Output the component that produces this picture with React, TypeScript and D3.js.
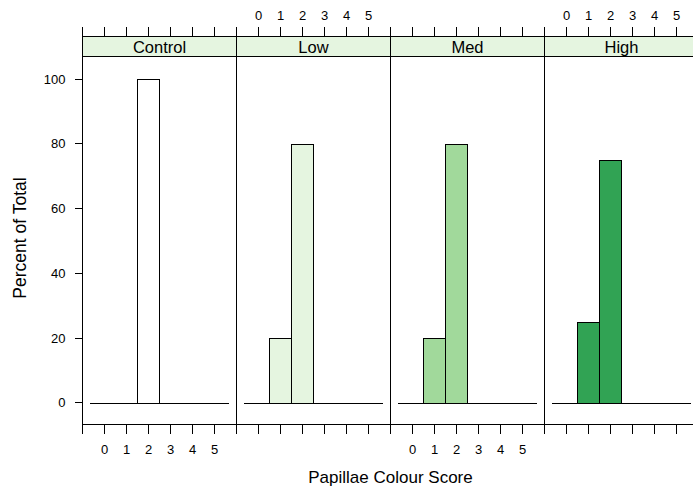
import React from "react";
import * as d3 from "d3";

// panels and histogram data (percent of total per colour score bin)
const groups = ["Control", "Low", "Med", "High"];
const fills = ["#FFFFFF", "#E5F5E0", "#A1D99B", "#31A354"];
const binEdges = [-0.65, 0.5, 1.5, 2.5, 3.5, 4.5, 5.65];
const controlPct = [0, 0, 100, 0, 0, 0];
const lowPct = [0, 20, 80, 0, 0, 0];
const medPct = [0, 20, 80, 0, 0, 0];
const highPct = [0, 25, 75, 0, 0, 0];
const xTicks = [-1, 0, 1, 2, 3, 4, 5, 6];
const xLabels = [0, 1, 2, 3, 4, 5];
const yTicks = [0, 20, 40, 60, 80, 100];

const percents = [controlPct, lowPct, medPct, highPct];

export default function App() {
    const width = 693;
    const height = 492;
    const left = 82.5;
    const panelW = 154;
    const top = 56.5;
    const bottom = 424.5;
    const stripTop = 36;
    const font = "Liberation Sans, Arial, sans-serif";

    const y = d3.scaleLinear().domain([-6.7, 107]).range([bottom, top]);

    return (
        <svg
            width={width}
            height={height}
            style={{ position: "absolute", left: 0, top: 0, background: "white" }}
            fontFamily={font}
        >
            {groups.map((g, i) => {
                const x0 = left + i * panelW;
                const x = d3.scaleLinear().domain([-1, 6]).range([x0, x0 + panelW]);
                const pct = percents[i];
                const labelTop = i % 2 === 1;
                const y0 = Math.round(y(0)) + 0.5;
                return (
                    <g key={g}>
                        {/* strip */}
                        <rect x={x0} y={stripTop} width={panelW} height={top - stripTop}
                            fill="#E5F5E0" stroke="#000" shapeRendering="crispEdges" />
                        <text x={x0 + panelW / 2} y={top - 4} textAnchor="middle" fontSize={16.5}>{g}</text>

                        {/* zero-height bins show as a line */}
                        <line x1={x(binEdges[0])} x2={x(binEdges[binEdges.length - 1])}
                            y1={y0} y2={y0} stroke="#000" shapeRendering="crispEdges" />
                        {pct.map((p, j) => p > 0 && (
                            <rect key={j}
                                x={Math.floor(x(binEdges[j])) + 0.5}
                                y={Math.round(y(p)) + 0.5}
                                width={Math.floor(x(binEdges[j + 1])) - Math.floor(x(binEdges[j]))}
                                height={y0 - Math.round(y(p)) - 0.5}
                                fill={fills[i]}
                                stroke="#000"
                                strokeWidth={1} />
                        ))}

                        {/* panel border */}
                        <rect x={x0} y={top} width={panelW} height={bottom - top}
                            fill="none" stroke="#000" shapeRendering="crispEdges" />

                        {/* x ticks, both sides */}
                        {xTicks.map(t => (
                            <g key={t}>
                                <line x1={x(t)} x2={x(t)} y1={bottom} y2={bottom + 9}
                                    stroke="#000" shapeRendering="crispEdges" />
                                <line x1={x(t)} x2={x(t)} y1={stripTop} y2={stripTop - 9}
                                    stroke="#000" shapeRendering="crispEdges" />
                            </g>
                        ))}
                        {xLabels.map(t => (
                            <text key={t} x={x(t)} y={labelTop ? 19.5 : 454}
                                textAnchor="middle" fontSize={13}>{t}</text>
                        ))}
                    </g>
                );
            })}

            {/* y axis */}
            {yTicks.map(t => (
                <g key={t}>
                    <line x1={left - 8} x2={left} y1={y(t)} y2={y(t)}
                        stroke="#000" shapeRendering="crispEdges" />
                    <text x={left - 17} y={y(t) + 4.5} textAnchor="end" fontSize={13}>{t}</text>
                </g>
            ))}

            <text x={390.5} y={483} textAnchor="middle" fontSize={17}>Papillae Colour Score</text>
            <text transform={`translate(25.5, 238) rotate(-90)`} textAnchor="middle" fontSize={17.5}>Percent of Total</text>
        </svg>
    );
}
